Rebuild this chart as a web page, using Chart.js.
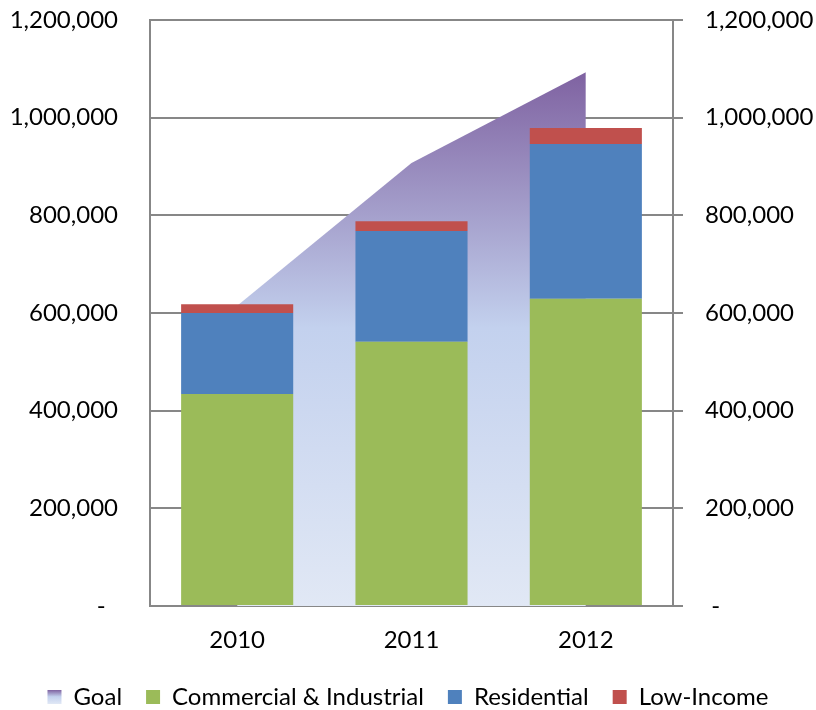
<!DOCTYPE html>
<html>
<head>
<meta charset="utf-8">
<script src="https://cdn.jsdelivr.net/npm/chart.js@4/dist/chart.umd.min.js"></script>
<style>
  html, body { margin: 0; padding: 0; background: #fff; }
  #wrap { width: 816px; height: 710px; }
</style>
</head>
<body>
<div id="wrap"><canvas id="grafico"></canvas></div>
<script>
const anos = ['2010', '2011', '2012'];
const meta = [615000, 907000, 1093000];
const comercial = [434000, 541000, 629000];
const residencial = [166000, 227000, 317000];
const baixaRenda = [18000, 20000, 33000];
const yTicks = [0, 200000, 400000, 600000, 800000, 1000000, 1200000];

const fonte = { family: 'Lato', size: 24 };
const cinza = '#878787';

function fmt(v, esquerda) {
    if (v === 0) return esquerda ? '-  ' : ' -';
    return v.toLocaleString('en-US');
}

// gradiente do "Goal" (roxo em cima, azul claro embaixo)
function gradienteMeta(ctx, topo, base) {
    const g = ctx.createLinearGradient(0, topo, 0, base);
    g.addColorStop(0, '#7f62a1');
    g.addColorStop(0.48, '#c3d1ee');
    g.addColorStop(1, '#e1e8f5');
    return g;
}

// caixinha da legenda do Goal com o mesmo degradê
const legendaGoal = {
    id: 'legendaGoal',
    afterDraw(chart) {
        const hb = chart.legend.legendHitBoxes[0];
        if (!hb) return;
        const bh = 14;
        const y = hb.top + (hb.height - bh) / 2;
        const ctx = chart.ctx;
        ctx.save();
        ctx.fillStyle = '#fff';
        ctx.fillRect(hb.left - 1, y - 1, 16, bh + 2);
        ctx.fillStyle = gradienteMeta(ctx, y, y + bh);
        ctx.fillRect(hb.left, y, 14, bh);
        ctx.restore();
    }
};

// largura fixa dos eixos y e sem folga extra em cima/embaixo
function ajustaY(largura) {
    return (s) => {
        s.width = largura;
        s.paddingTop = 0;
        s.paddingBottom = 0;
    };
}

const ctx1 = document.getElementById('grafico').getContext('2d');
new Chart(ctx1, {
    data: {
        labels: anos,
        datasets: [
            {
                type: 'line',
                label: 'Goal',
                data: meta,
                fill: 'origin',
                borderWidth: 0,
                pointRadius: 0,
                tension: 0,
                order: 5,
                backgroundColor: (c) => {
                    const ch = c.chart;
                    if (!ch.chartArea) return '#a99bcf';
                    const y = ch.scales.y;
                    return gradienteMeta(ch.ctx, y.getPixelForValue(Math.max(...meta)), y.getPixelForValue(0));
                }
            },
            { type: 'bar', label: 'Commercial & Industrial', data: comercial, backgroundColor: '#9bbb59', stack: 's', order: 1 },
            { type: 'bar', label: 'Residential', data: residencial, backgroundColor: '#4f81bd', stack: 's', order: 1 },
            { type: 'bar', label: 'Low-Income', data: baixaRenda, backgroundColor: '#c0504d', stack: 's', order: 1 }
        ]
    },
    options: {
        responsive: true,
        maintainAspectRatio: false,
        animation: false,
        layout: { padding: { top: 20, left: 0, right: 0, bottom: -9 } },
        datasets: { bar: { barPercentage: 0.643, categoryPercentage: 1 } },
        scales: {
            x: {
                stacked: true,
                offset: true,
                grid: { display: false },
                border: { color: cinza, width: 2 },
                ticks: { color: '#000', font: fonte, padding: 12 },
                afterFit: (s) => { s.height = 55; }
            },
            y: {
                stacked: true,
                min: 0, max: 1200000,
                afterBuildTicks: (s) => { s.ticks = yTicks.map(v => ({ value: v })); },
                grid: { color: cinza, lineWidth: 2, drawTicks: false },
                border: { color: cinza, width: 2 },
                ticks: { color: '#000', font: fonte, padding: 32, callback: (v) => fmt(v, true) },
                afterFit: ajustaY(150)
            },
            y2: {
                position: 'right',
                min: 0, max: 1200000,
                afterBuildTicks: (s) => { s.ticks = yTicks.map(v => ({ value: v })); },
                grid: { drawOnChartArea: false, color: cinza, lineWidth: 2, tickLength: 10 },
                border: { color: cinza, width: 2 },
                ticks: { color: '#000', font: fonte, padding: 22, callback: (v) => fmt(v, false) },
                afterFit: ajustaY(143)
            }
        },
        plugins: {
            legend: {
                position: 'bottom',
                labels: {
                    color: '#000',
                    font: { family: 'Lato', size: 24, lineHeight: 1 },
                    boxWidth: 14,
                    boxHeight: 14,
                    padding: 24,
                    sort: (a, b) => a.datasetIndex - b.datasetIndex
                }
            },
            tooltip: { enabled: false }
        }
    },
    plugins: [legendaGoal]
});
</script>
</body>
</html>
